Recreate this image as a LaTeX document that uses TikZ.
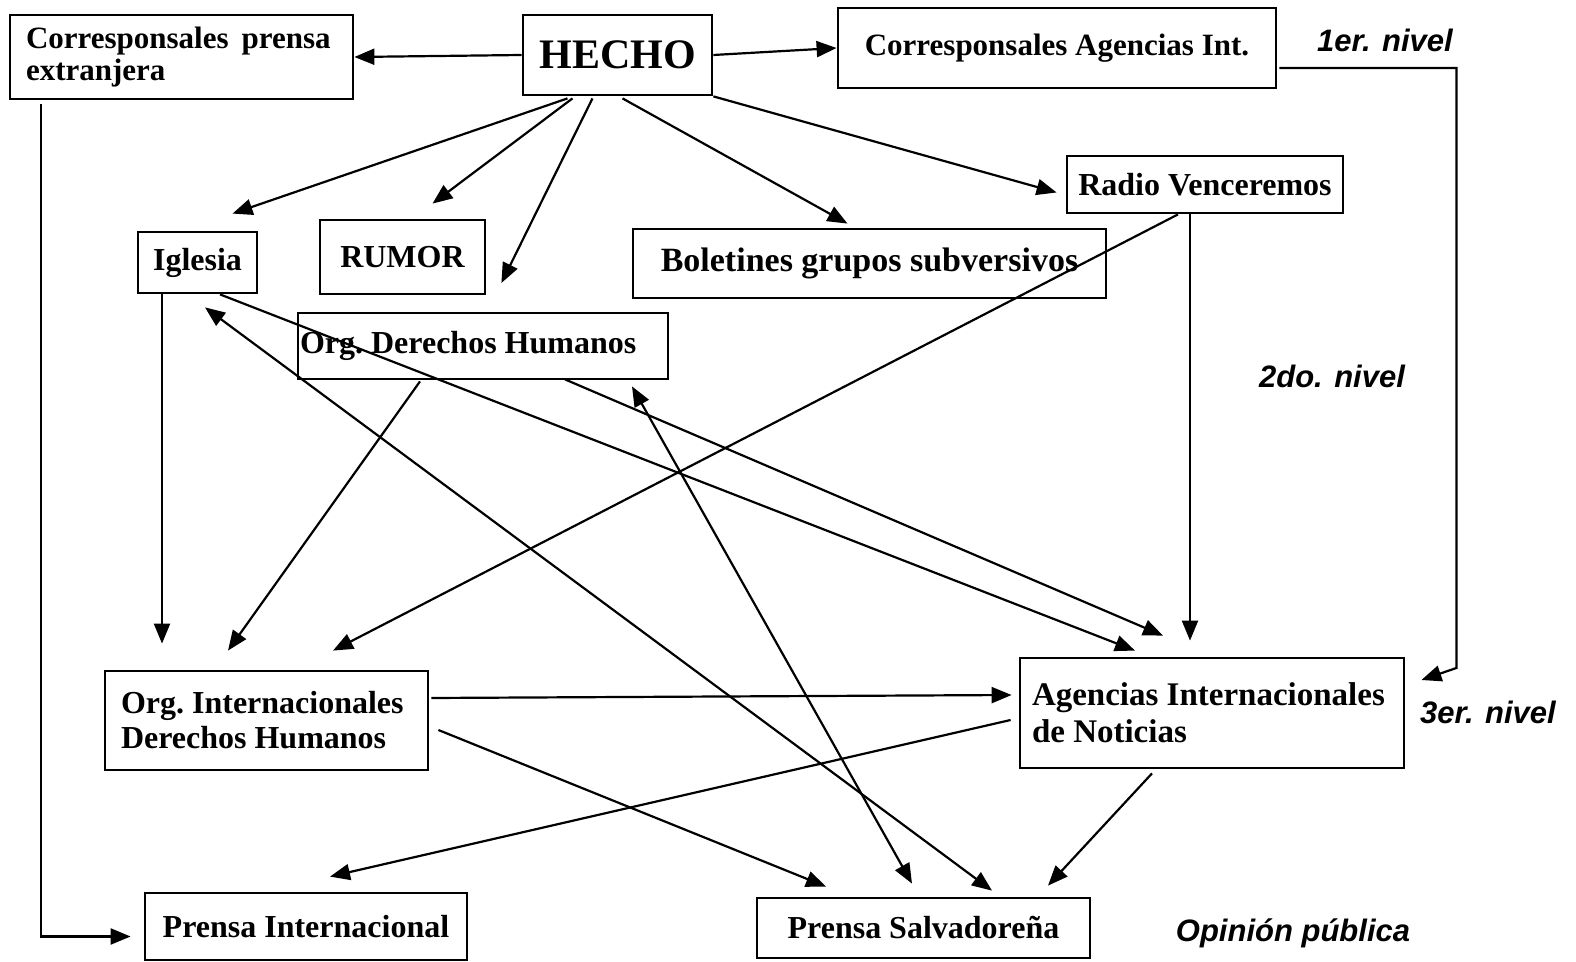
\documentclass[tikz,border=0pt]{standalone}
\usepackage{fontspec}
\setmainfont{Liberation Serif}
\setsansfont{Liberation Sans}
\usetikzlibrary{calc, positioning}
\usetikzlibrary{arrows.meta}

\begin{document}
\begin{tikzpicture}[x=0.5pt,y=-0.5pt,
  box/.style={draw, line width=1.4pt, inner sep=0pt, font=\fontsize{16}{17.5}\selectfont\bfseries},
  nivel/.style={font=\fontsize{15.5}{17}\selectfont\sffamily\bfseries\itshape},
  flecha/.style={line width=1.1pt, -{Triangle[length=10pt,width=8pt]}},
  doble/.style={line width=1.1pt, {Triangle[length=10pt,width=8pt]}-{Triangle[length=10pt,width=8pt]}}]
\useasboundingbox (0,0) rectangle (1576,962);

% primer nivel
\node[box, minimum width=171.5pt, minimum height=42pt, inner xsep=8pt, text width=155.5pt, align=flush left,
  font=\fontsize{15.5}{16}\selectfont\bfseries] (cpe) at (181.5,57) {Corresponsales~\,prensa\\extranjera};
\node[box, minimum width=94.5pt, minimum height=40pt, font=\fontsize{21}{24}\selectfont\bfseries] (hecho) at (617.5,55) {HECHO};
\node[box, minimum width=219pt, minimum height=40pt, font=\fontsize{15.5}{17}\selectfont\bfseries] (cai) at (1057,48) {Corresponsales Agencias Int.};

% segundo nivel
\node[box, minimum width=59.5pt, minimum height=30.5pt] (igl) at (197.5,262.5) {Iglesia};
\node[box, minimum width=82.5pt, minimum height=37pt] (rumor) at (402.5,257) {RUMOR};
\node[box, minimum width=236.5pt, minimum height=34.5pt, font=\fontsize{17}{18}\selectfont\bfseries] (bol) at (869.5,263.5) {Boletines grupos subversivos};
\node[box, minimum width=138pt, minimum height=28.5pt] (radio) at (1205,184.5) {Radio Venceremos};
\node[box, minimum height=33pt, inner xsep=1pt, text width=183pt, align=flush left] (odh) at (483,346) {Org.\ Derechos Humanos};

% tercer nivel
\node[box, minimum height=49.5pt, inner xsep=8pt, text width=145.5pt, align=flush left] (oidh) at (266.5,720.5) {Org.\ Internacionales\\Derechos Humanos};
\node[box, minimum height=55pt, inner xsep=6pt, text width=180pt, align=flush left,
  font=\fontsize{16.5}{18.5}\selectfont\bfseries] (ain) at (1212,713) {Agencias Internacionales\\de Noticias};

% opinion publica
\node[box, minimum width=161pt, minimum height=33.5pt] (pi) at (306,926.5) {Prensa Internacional};
\node[box, minimum width=166.5pt, minimum height=30pt] (ps) at (923.5,928) {Prensa Salvadoreña};

\node[nivel] (n1) at (1385,40) {1er. nivel};
\node[nivel] (n2) at (1332,376) {2do. nivel};
\node[nivel] (n3) at (1488,712) {3er. nivel};
\node[nivel] (op) at (1293,933) {Opinión pública};

% desde el hecho
\draw[flecha] (hecho.west) -- (cpe.east);
\draw[flecha] (hecho.east) -- (cai.west);
\draw[flecha] ($(hecho.south)+(-50,2)$) -- ($(igl.north)+(35,-17)$);
\draw[flecha] ($(hecho.south)+(-45,2)$) -- ($(rumor.north)+(30,-15)$);
\draw[flecha] ($(hecho.south)+(-25,2)$) -- ($(rumor.east)+(15,26)$);
\draw[flecha] ($(hecho.south)+(5,2)$) -- ($(bol.north)+(-22,-4)$);
\draw[flecha] (hecho.south east) -- ($(radio.west)+(-9,8)$);

% corresponsales
\draw[flecha] ($(cpe.south west)+(32,4)$) |- ($(pi.west)+(-13,10)$);
\draw[flecha] ($(cai.east)+(2,20)$) -| ($(ain.east)+(51,-45)$) -- ($(ain.east)+(16,-33)$);

% segundo a tercer nivel
\draw[flecha] ($(igl.south)+(-35.5,0)$) -- ($(oidh.north)+(-104.5,-26)$);
\draw[flecha] ($(igl.south)+(22.5,0)$) -- ($(ain.north)+(-77,-6)$);
\draw[doble] ($(igl.south)+(7.5,13)$) -- ($(ps.north)+(68.5,-6)$);
\draw[flecha] ($(odh.south)+(-63,1)$) -- ($(oidh.north)+(-38.5,-19)$);
\draw[flecha] ($(odh.south)+(82,-1)$) -- ($(ain.north)+(-49,-21)$);
\draw[doble] ($(odh.south)+(149,6)$) -- ($(ps.north)+(-11.5,-13)$);
\draw[flecha] ($(radio.south)+(-27,0)$) -- ($(oidh.north)+(66.5,-19)$);
\draw[flecha] ($(radio.south)+(-15,0)$) -- ($(ain.north)+(-22,-16)$);

% tercer nivel a la prensa
\draw[flecha] ($(oidh.east)+(2,-22.5)$) -- ($(ain.west)+(-7,-18)$);
\draw[flecha] ($(oidh.east)+(9,9.5)$) -- ($(ps.north)+(-97.5,-10)$);
\draw[flecha] ($(ain.west)+(-8,7)$) -- ($(pi.north)+(24,-15)$);
\draw[flecha] ($(ain.south)+(-60,4)$) -- ($(ps.north)+(124.5,-11)$);
\end{tikzpicture}
\end{document}
